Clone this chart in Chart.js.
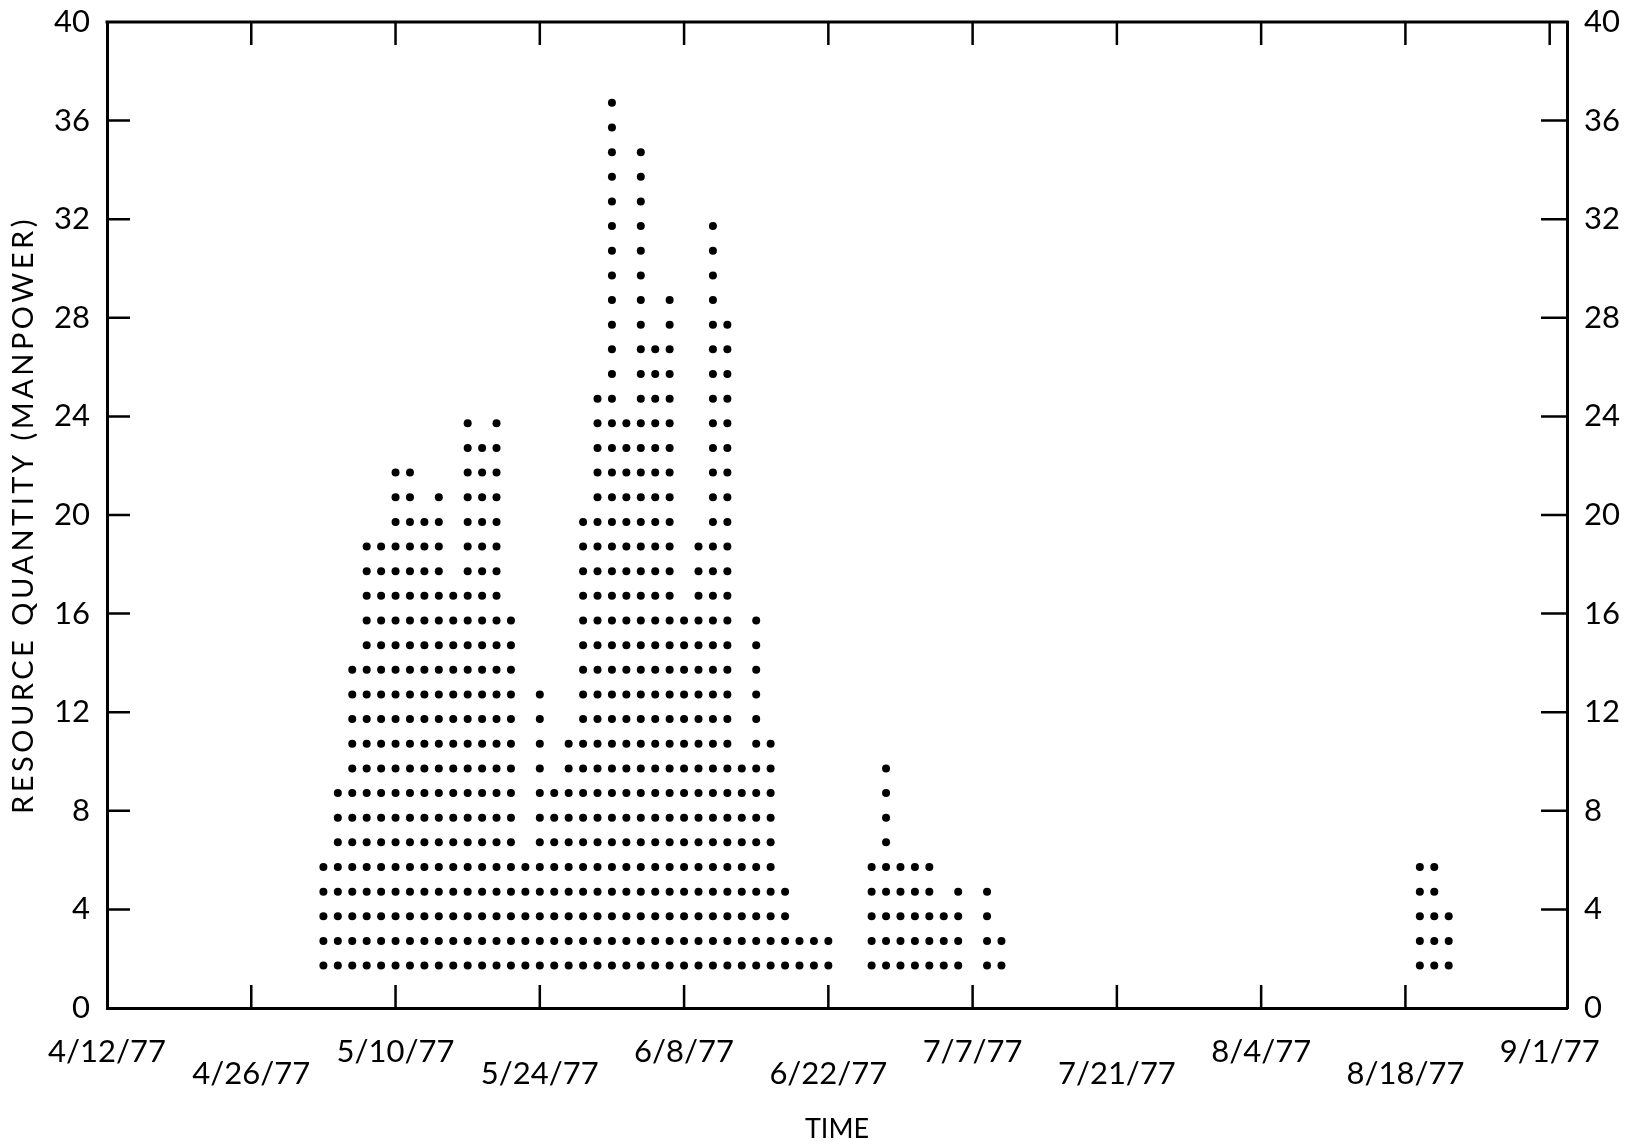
<!DOCTYPE html>
<html>
<head>
<meta charset="utf-8">
<script src="https://cdn.jsdelivr.net/npm/chart.js@4"></script>
<style>
  html, body { margin: 0; background: #fff; }
  #wrap { width: 1637px; height: 1148px; }
</style>
</head>
<body>
<div id="wrap"><canvas id="manpowerChart"></canvas></div>
<script>
// working days counted from 4/12/77, ten working days between date ticks
const workDays = [
  15, 16, 17, 18, 19, 20, 21, 22, 23, 24, 25, 26, 27, 28, 29, 30,
  31, 32, 33, 34, 35, 36, 37, 38, 39, 40, 41, 42, 43, 44, 45, 46,
  47, 48, 49, 50, 51, 52, 53, 54, 55, 56, 57, 58, 59, 60, 61, 62,
  91, 92, 93
];
// manpower on each working day (one dot per man)
const manpower = [
  5, 8, 13, 18, 18, 21, 21, 19, 20, 16, 23, 22, 23, 15, 5, 12,
  8, 10, 19, 24, 36, 23, 34, 26, 28, 15, 18, 31, 27, 9, 15, 10,
  4, 2, 2, 2, 0, 0, 5, 9, 5, 5, 5, 3, 4, 0, 4, 2,
  5, 5, 3
];
const dateLabels = [
  "4/12/77", "4/26/77", "5/10/77", "5/24/77", "6/8/77", "6/22/77",
  "7/7/77", "7/21/77", "8/4/77", "8/18/77", "9/1/77"
];
const yTickValues = [4, 8, 12, 16, 20, 24, 28, 32, 36];

const DOT_OFFSET = 0.72; // dots sit a little above each whole unit on the plot
const FONT = "Lato, 'Liberation Sans', sans-serif";

const dots = [];
workDays.forEach((d, i) => {
  for (let k = 1; k <= manpower[i]; k++) {
    dots.push({ x: d, y: k + DOT_OFFSET });
  }
});

// top border plus the short inward tick marks on all four sides
const frameTicks = {
  id: "frameTicks",
  beforeDraw(chart) {
    // spread out the letters of the y title like the original lettering
    const ys = chart.scales.y;
    if (!ys._spaced) {
      const orig = ys.drawTitle;
      ys.drawTitle = function () {
        chart.ctx.letterSpacing = "3.5px";
        orig.apply(this, arguments);
        chart.ctx.letterSpacing = "0px";
      };
      ys._spaced = true;
    }
  },
  afterDraw(chart) {
    const { ctx, chartArea: a } = chart;
    const xs = chart.scales.x;
    const ys = chart.scales.y;
    ctx.save();
    ctx.strokeStyle = "#000";
    ctx.lineWidth = 3;
    ctx.beginPath();
    ctx.moveTo(a.left - 1.5, a.top);
    ctx.lineTo(a.right + 1.5, a.top);
    ctx.stroke();

    ctx.lineWidth = 2.5;
    ctx.beginPath();
    dateLabels.forEach((_, i) => {
      if (i === 0) return;
      const px = xs.getPixelForValue(i * 10);
      ctx.moveTo(px, a.top);
      ctx.lineTo(px, a.top + 23);
      if (i < dateLabels.length - 1) {
        ctx.moveTo(px, a.bottom);
        ctx.lineTo(px, a.bottom - 23);
      }
    });
    yTickValues.forEach(v => {
      const py = ys.getPixelForValue(v);
      ctx.moveTo(a.left, py);
      ctx.lineTo(a.left + 23, py);
      ctx.moveTo(a.right, py);
      ctx.lineTo(a.right - 26, py);
    });
    ctx.stroke();
    ctx.restore();
  }
};

const yTicksCommon = {
  stepSize: 4,
  padding: 17,
  color: "#000",
  font: { family: FONT, size: 31 }
};

function fixSide(width) {
  return scale => {
    scale.width = width;
    scale.paddingTop = 0;
    scale.paddingBottom = 0;
  };
}

new Chart(document.getElementById("manpowerChart"), {
  type: "scatter",
  data: {
    datasets: [
      {
        label: "Resource quantity",
        data: dots,
        backgroundColor: "#000",
        borderWidth: 0,
        pointRadius: 4,
        pointStyle: "circle",
        yAxisID: "y"
      }
    ]
  },
  options: {
    responsive: true,
    maintainAspectRatio: false,
    animation: false,
    layout: { padding: { top: 22, left: 0, right: 0, bottom: 0 } },
    plugins: {
      legend: { display: false },
      tooltip: { enabled: false }
    },
    scales: {
      x: {
        type: "linear",
        min: 0,
        max: 101.2,
        afterBuildTicks: scale => {
          scale.ticks = dateLabels.map((_, i) => ({ value: i * 10 }));
        },
        afterFit: scale => { scale.height = 140; },
        grid: { display: false, drawTicks: false },
        border: { display: true, color: "#000", width: 3 },
        ticks: {
          autoSkip: false,
          maxRotation: 0,
          minRotation: 0,
          padding: 33,
          color: "#000",
          font: { family: FONT, size: 31, lineHeight: "22px" },
          callback: (value, index) =>
            index % 2 ? ["", dateLabels[index]] : dateLabels[index]
        },
        title: {
          display: true,
          text: "TIME",
          color: "#000",
          font: { family: FONT, size: 27 },
          padding: { top: 0, bottom: 3 }
        }
      },
      y: {
        position: "left",
        min: 0,
        max: 40,
        afterFit: fixSide(107),
        grid: { display: false, drawTicks: false },
        border: { display: true, color: "#000", width: 3 },
        ticks: yTicksCommon,
        title: {
          display: true,
          text: "RESOURCE QUANTITY (MANPOWER)",
          color: "#000",
          font: { family: FONT, size: 29 },
          padding: { top: 6, bottom: 0 }
        }
      },
      y2: {
        position: "right",
        min: 0,
        max: 40,
        afterFit: fixSide(70),
        grid: { display: false, drawTicks: false },
        border: { display: true, color: "#000", width: 3 },
        ticks: yTicksCommon
      }
    }
  },
  plugins: [frameTicks]
});
</script>
</body>
</html>
